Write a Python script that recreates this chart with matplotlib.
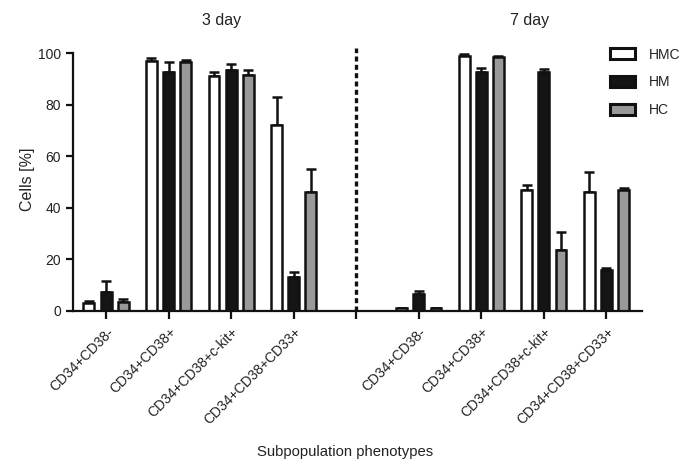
import matplotlib
matplotlib.use("Agg")
import matplotlib.pyplot as plt
from matplotlib.patches import Patch
import numpy as np

plt.rcParams['font.family'] = ['Liberation Sans', 'DejaVu Sans']

categories = ["CD34+CD38-", "CD34+CD38+", "CD34+CD38+c-kit+", "CD34+CD38+CD33+"]
groups = ["3 day", "7 day"]
series = ["HMC", "HM", "HC"]

hmc_3 = [3.0, 97.0, 91.0, 72.0]
hm_3 = [7.5, 92.5, 93.5, 13.0]
hc_3 = [3.5, 96.5, 91.5, 46.0]
hmc_3_err = [1.0, 1.0, 1.8, 11.0]
hm_3_err = [4.0, 4.0, 2.2, 2.0]
hc_3_err = [1.0, 0.8, 1.8, 9.0]

hmc_7 = [1.0, 99.0, 47.0, 46.0]
hm_7 = [6.5, 92.5, 92.5, 16.0]
hc_7 = [1.0, 98.5, 23.5, 47.0]
hmc_7_err = [0.3, 0.5, 1.8, 8.0]
hm_7_err = [1.3, 1.8, 1.5, 0.6]
hc_7_err = [0.3, 0.3, 7.3, 0.8]

colors = ["#ffffff", "#151515", "#999999"]

fig = plt.figure(figsize=(6.86, 4.62), dpi=100)
ax = fig.add_axes([73/686, 1-311/462, (642-73)/686, (311-48)/462])

pos3 = np.arange(4)
pos7 = np.arange(4) + 5
sep = 4
offsets = [-0.275, 0.0, 0.275]
width = 0.175
lw = 1.8

data = [
    (hmc_3 + hmc_7, hmc_3_err + hmc_7_err),
    (hm_3 + hm_7, hm_3_err + hm_7_err),
    (hc_3 + hc_7, hc_3_err + hc_7_err),
]
positions = np.concatenate([pos3, pos7])
for i, (vals, errs) in enumerate(data):
    x = positions + offsets[i]
    ax.errorbar(x, vals, yerr=[np.zeros(len(errs)), errs], fmt='none',
                ecolor='#111111', elinewidth=lw, capsize=3.5, capthick=lw, zorder=1)
    ax.bar(x, vals, width=width, color=colors[i], edgecolor='#111111',
           linewidth=lw, zorder=2)

ax.axvline(sep, ymin=0, ymax=1, color='#111111', linestyle=(0, (1.5, 1.0)), linewidth=2.4, zorder=0)

ax.set_xlim(-0.53, 8.57)
ax.set_ylim(0, 102)
ax.spines['top'].set_visible(False)
ax.spines['right'].set_visible(False)
ax.spines['left'].set_bounds(0, 100)
for s in ['left', 'bottom']:
    ax.spines[s].set_linewidth(1.6)
    ax.spines[s].set_color('#111111')

ax.set_yticks([0, 20, 40, 60, 80, 100])
ticks = list(pos3) + [sep] + list(pos7)
labels = categories + [""] + categories
ax.set_xticks(ticks)
ax.set_xticklabels(labels, rotation=45, ha='right', rotation_mode='anchor')
ax.tick_params(axis='both', labelsize=10, colors='#111111', labelcolor='#222222', width=1.6, length=5)
ax.tick_params(axis='x', length=6, pad=4)

ax.set_ylabel("Cells [%]", fontsize=11.5, color='#222222', labelpad=2)
fig.text(345/686, 1-452/462, "Subpopulation phenotypes", ha='center', va='center', fontsize=10.7, color='#222222')

fig.text(222/686, 1-20/462, groups[0], ha='center', va='center', fontsize=11.5, color='#222222')
fig.text(530/686, 1-20/462, groups[1], ha='center', va='center', fontsize=11.5, color='#222222')

handles = [Patch(facecolor=c, edgecolor='#111111', linewidth=2.2) for c in colors]
leg = fig.legend(handles, series, loc='upper left', bbox_to_anchor=(604/686, 1-42/462),
                 frameon=False, fontsize=10, handlelength=1.8, handleheight=0.8,
                 labelspacing=1.0, handletextpad=1.0, borderaxespad=0)
for t in leg.get_texts():
    t.set_color('#222222')

fig.savefig("out.png", dpi=100)
